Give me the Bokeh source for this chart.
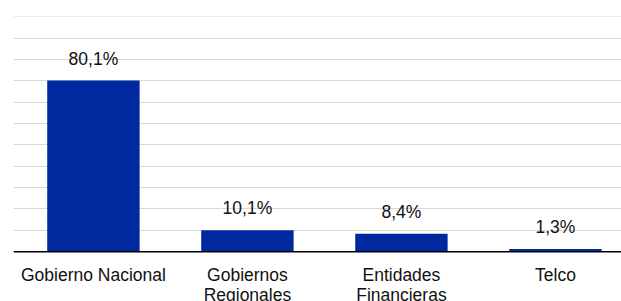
from bokeh.plotting import figure
from bokeh.models import ColumnDataSource, Range1d, FixedTicker, Span
from bokeh.embed import file_html
from bokeh.resources import INLINE
from bokeh.core.properties import value

categories = ["Gobierno Nacional", "Gobiernos\nRegionales", "Entidades\nFinancieras", "Telco"]
shares = [80.1, 10.1, 8.4, 1.3]
share_labels = ["80,1%", "10,1%", "8,4%", "1,3%"]
grid_ticks = [10, 20, 30, 40, 50, 60, 70, 80, 90, 100, 110]

xs = list(range(len(categories)))
src = ColumnDataSource(dict(x=xs, top=shares, lab=share_labels,
                            cat=categories, base=[0] * len(xs)))

p = figure(width=621, height=301, output_backend="svg", toolbar_location=None,
           x_range=Range1d(-0.519, 3.429), y_range=Range1d(-23.3, 110.1),
           min_border_left=13, min_border_right=0, min_border_top=16, min_border_bottom=0)
p.outline_line_color = None
p.background_fill_color = "white"

p.xaxis.visible = False
p.yaxis.visible = False
p.xgrid.visible = False
p.ygrid.ticker = FixedTicker(ticks=grid_ticks)
p.ygrid.grid_line_color = "#d9d9d9"
p.ygrid.grid_line_width = 1.2

p.vbar(x="x", top="top", width=0.6, bottom=0, source=src,
       fill_color="#0029A0", line_color=None)
p.add_layout(Span(location=0, dimension="width", line_color="black", line_width=1.6))

p.text(x="x", y="top", text="lab", source=src, text_align="center",
       text_baseline="bottom", y_offset=-12, text_font_size="17.5px",
       text_font=value("Liberation Sans"), text_color="#111111")

p.text(x="x", y="base", text="cat", source=src, text_align="center",
       text_baseline="top", y_offset=13, text_font_size="17.5px",
       text_font=value("Liberation Sans"), text_color="#111111",
       text_line_height=1.03)

open("out.html", "w").write(file_html(p, INLINE))
